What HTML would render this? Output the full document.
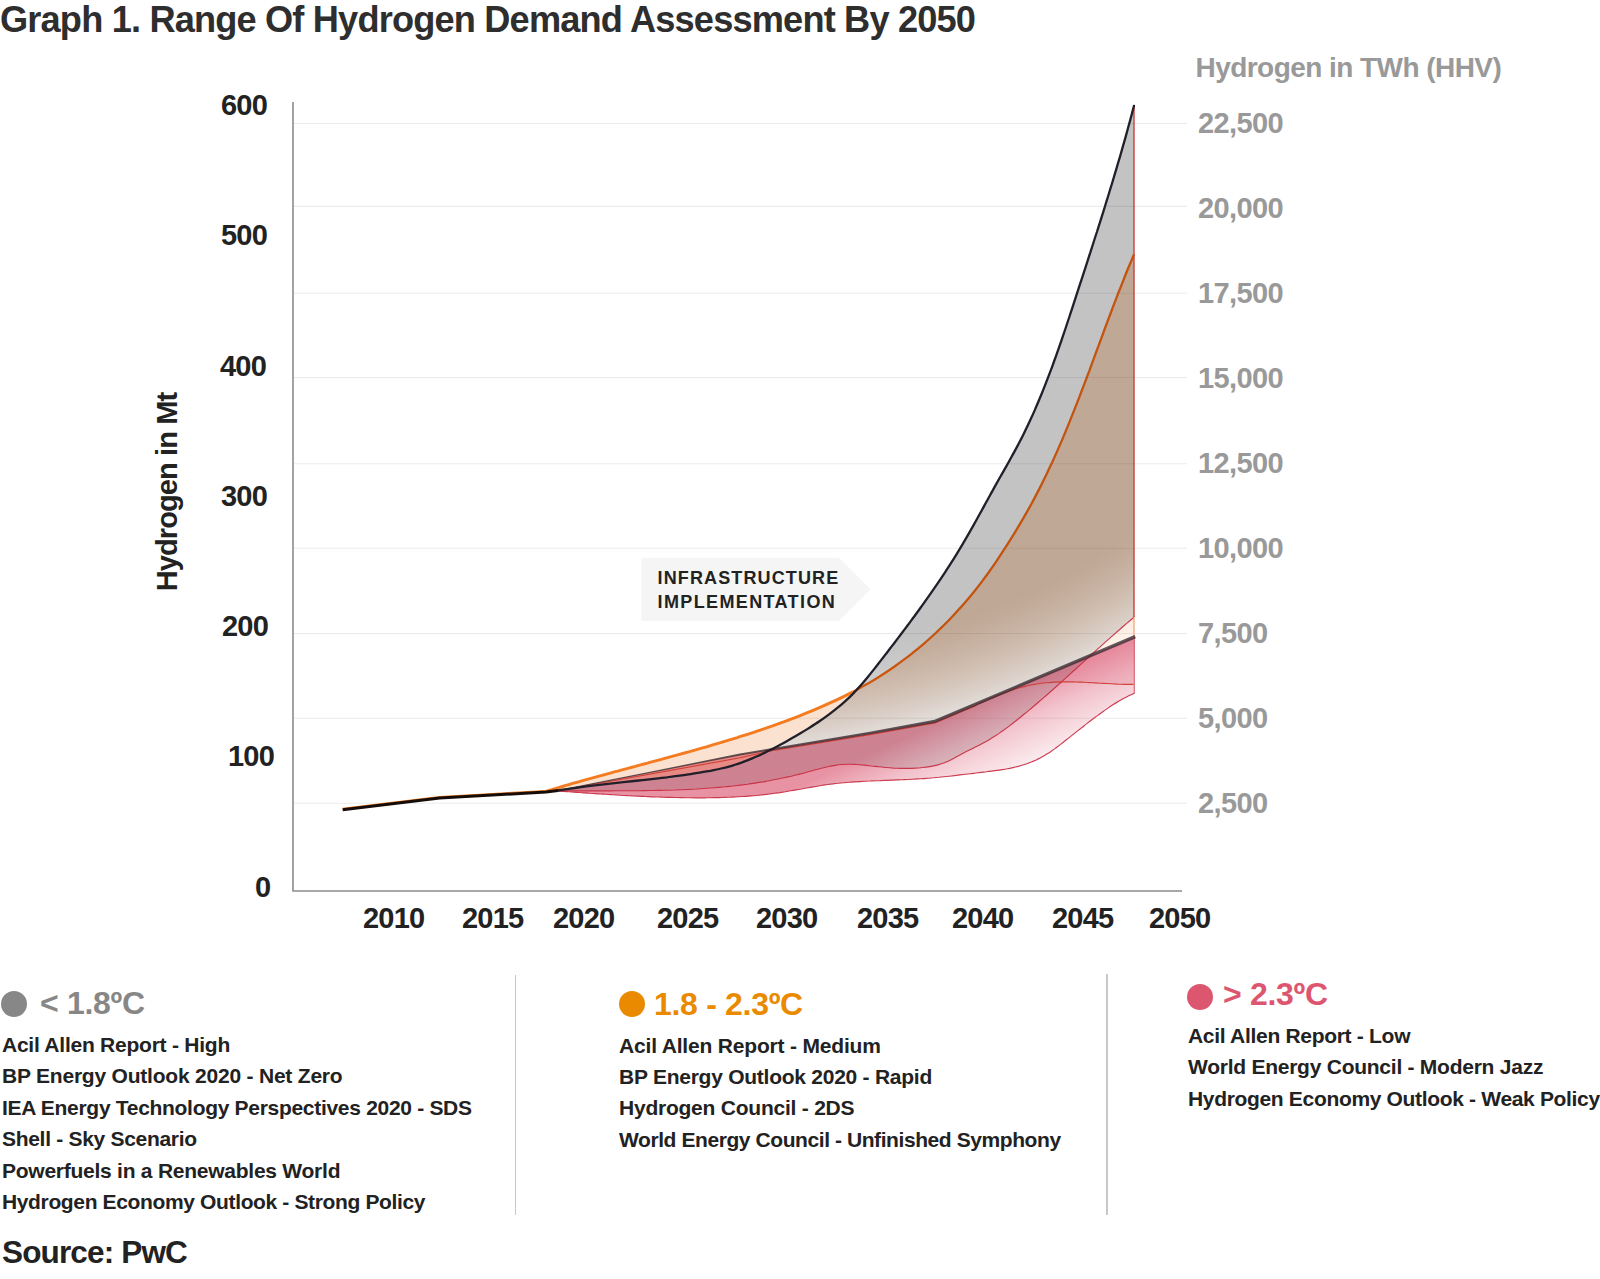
<!DOCTYPE html>
<html lang="en">
<head>
<meta charset="utf-8">
<title>Graph 1. Range Of Hydrogen Demand Assessment By 2050</title>
<style>
html,body{margin:0;padding:0;background:#fff;}
body{width:1600px;height:1279px;position:relative;overflow:hidden;font-family:"Liberation Sans",sans-serif;font-weight:bold;color:#222;}
.t{position:absolute;white-space:nowrap;line-height:1;margin:0;}
#title{left:0px;top:2px;font-size:36.2px;color:#2e2e2e;letter-spacing:-0.83px;}
.yl{font-size:29px;color:#222;letter-spacing:-0.8px;}
.xl{font-size:29px;color:#222;top:904px;letter-spacing:-0.8px;}
.rl{font-size:29px;color:#999;left:1198px;letter-spacing:-0.6px;}
#rtitle{left:1195.5px;top:54px;font-size:28px;color:#999;letter-spacing:-0.55px;}
#ltitle{left:167.2px;top:491.5px;font-size:29px;letter-spacing:-0.9px;color:#222;transform:translate(-50%,-50%) rotate(-90deg);}
.lh{font-size:32px;letter-spacing:-0.3px;}
.li{font-size:21px;color:#222;letter-spacing:-0.3px;}
#src{left:2px;top:1237px;font-size:31.5px;color:#222;letter-spacing:-0.85px;}
.dot{position:absolute;width:26px;height:26px;border-radius:50%;}
.sep{position:absolute;width:1.3px;background:#c8c8c8;}
svg{position:absolute;left:0;top:0;}
</style>
</head>
<body>
<svg id="chart" width="1600" height="1279" viewBox="0 0 1600 1279">

<defs>
<radialGradient id="gG" gradientUnits="userSpaceOnUse" cx="695.0" cy="-126.0" r="877.0" fx="695.0" fy="-126.0"><stop offset="0" stop-color="#000" stop-opacity="0.235"/><stop offset="0.9008" stop-color="#000" stop-opacity="0.235"/><stop offset="0.9107" stop-color="#000" stop-opacity="0.228"/><stop offset="0.9206" stop-color="#000" stop-opacity="0.219"/><stop offset="0.9306" stop-color="#000" stop-opacity="0.208"/><stop offset="0.9405" stop-color="#000" stop-opacity="0.196"/><stop offset="0.9504" stop-color="#000" stop-opacity="0.183"/><stop offset="0.9603" stop-color="#000" stop-opacity="0.170"/><stop offset="0.9702" stop-color="#000" stop-opacity="0.156"/><stop offset="0.9802" stop-color="#000" stop-opacity="0.142"/><stop offset="0.9901" stop-color="#000" stop-opacity="0.127"/><stop offset="1.0000" stop-color="#000" stop-opacity="0.112"/></radialGradient>
<radialGradient id="gO" gradientUnits="userSpaceOnUse" cx="695.0" cy="-126.0" r="877.0" fx="695.0" fy="-126.0"><stop offset="0" stop-color="#eb6400" stop-opacity="0.235"/><stop offset="0.9008" stop-color="#eb6400" stop-opacity="0.235"/><stop offset="0.9107" stop-color="#eb6400" stop-opacity="0.230"/><stop offset="0.9206" stop-color="#eb6400" stop-opacity="0.221"/><stop offset="0.9306" stop-color="#eb6400" stop-opacity="0.207"/><stop offset="0.9405" stop-color="#eb6400" stop-opacity="0.191"/><stop offset="0.9504" stop-color="#eb6400" stop-opacity="0.172"/><stop offset="0.9603" stop-color="#eb6400" stop-opacity="0.151"/><stop offset="0.9702" stop-color="#eb6400" stop-opacity="0.128"/><stop offset="0.9802" stop-color="#eb6400" stop-opacity="0.102"/><stop offset="0.9901" stop-color="#eb6400" stop-opacity="0.074"/><stop offset="1.0000" stop-color="#eb6400" stop-opacity="0.045"/></radialGradient>
<linearGradient id="gP" gradientUnits="userSpaceOnUse" x1="900" y1="740" x2="930" y2="806.6">
<stop offset="0" stop-color="#d33252" stop-opacity="0.53"/>
<stop offset="0.45" stop-color="#d33252" stop-opacity="0.3"/>
<stop offset="1" stop-color="#d33252" stop-opacity="0.1"/>
</linearGradient>
</defs>
<g stroke="#ebebeb" stroke-width="1.1"><line x1="294" x2="1187" y1="123.5" y2="123.5"/><line x1="294" x2="1187" y1="206.4" y2="206.4"/><line x1="294" x2="1187" y1="293.2" y2="293.2"/><line x1="294" x2="1187" y1="377.5" y2="377.5"/><line x1="294" x2="1187" y1="463.8" y2="463.8"/><line x1="294" x2="1187" y1="548.3" y2="548.3"/><line x1="294" x2="1187" y1="633.5" y2="633.5"/><line x1="294" x2="1187" y1="718.3" y2="718.3"/><line x1="294" x2="1187" y1="803.2" y2="803.2"/></g>
<path d="M641.4,557.7 H838.8 L870.5,589.3 L838.8,621 H641.4 Z" fill="#f5f5f5"/>
<text x="657.5" y="584" font-family="Liberation Sans, sans-serif" font-weight="bold" font-size="18" letter-spacing="1.13" fill="#222">INFRASTRUCTURE</text>
<text x="657.5" y="608" font-family="Liberation Sans, sans-serif" font-weight="bold" font-size="18" letter-spacing="1.38" fill="#222">IMPLEMENTATION</text>
<path d="M558.0,790.5 L740.0,754.5 L870.0,733.0 L935.0,721.3 L1134.5,637.0 L1134.5,693.2 C1133.6,693.6 1131.0,694.8 1129.2,695.6 C1127.4,696.5 1125.7,697.4 1123.9,698.3 C1122.2,699.3 1120.4,700.3 1118.6,701.3 C1116.9,702.4 1115.1,703.5 1113.3,704.6 C1111.6,705.7 1109.8,706.9 1108.1,708.1 C1106.3,709.3 1104.5,710.5 1102.8,711.7 C1101.0,713.0 1099.2,714.3 1097.5,715.6 C1095.7,716.9 1094.0,718.2 1092.2,719.5 C1090.4,720.9 1088.7,722.2 1086.9,723.6 C1085.1,725.0 1083.4,726.4 1081.6,727.8 C1079.8,729.1 1078.1,730.5 1076.3,731.9 C1074.6,733.3 1072.8,734.7 1071.0,736.1 C1069.3,737.5 1067.5,738.9 1065.7,740.3 C1064.0,741.7 1062.2,743.1 1060.5,744.4 C1058.7,745.8 1056.9,747.1 1055.2,748.4 C1053.4,749.7 1051.6,751.0 1049.9,752.2 C1048.1,753.3 1046.4,754.4 1044.6,755.5 C1042.8,756.5 1041.1,757.5 1039.3,758.4 C1037.5,759.2 1035.8,760.1 1034.0,760.9 C1032.2,761.6 1030.5,762.3 1028.7,763.0 C1027.0,763.7 1025.2,764.3 1023.4,764.8 C1021.7,765.4 1019.9,765.9 1018.1,766.4 C1016.4,766.8 1014.6,767.2 1012.9,767.6 C1011.1,768.0 1009.3,768.4 1007.6,768.7 C1005.8,769.1 1004.0,769.4 1002.3,769.6 C1000.5,769.9 998.7,770.2 997.0,770.4 C995.2,770.7 993.5,770.9 991.7,771.1 C989.9,771.3 988.2,771.5 986.4,771.8 C984.6,772.0 982.9,772.2 981.1,772.4 C979.4,772.6 977.6,772.8 975.8,773.0 C974.1,773.2 972.3,773.5 970.5,773.7 C968.8,773.9 967.0,774.1 965.3,774.3 C963.5,774.5 961.7,774.7 960.0,774.9 C958.2,775.2 956.4,775.4 954.7,775.6 C952.9,775.8 951.1,776.0 949.4,776.2 C947.6,776.4 945.9,776.6 944.1,776.7 C942.3,776.9 940.6,777.1 938.8,777.3 C937.0,777.4 935.3,777.6 933.5,777.8 C931.8,777.9 930.0,778.1 928.2,778.2 C926.5,778.3 924.7,778.5 922.9,778.6 C921.2,778.7 919.4,778.8 917.7,778.9 C915.9,779.0 914.1,779.1 912.4,779.2 C910.6,779.3 908.8,779.4 907.1,779.5 C905.3,779.6 903.5,779.6 901.8,779.7 C900.0,779.8 898.3,779.9 896.5,779.9 C894.7,780.0 893.0,780.1 891.2,780.1 C889.4,780.2 887.7,780.3 885.9,780.3 C884.2,780.4 882.4,780.5 880.6,780.6 C878.9,780.6 877.1,780.7 875.3,780.8 C873.6,780.9 871.8,780.9 870.1,781.0 C868.3,781.1 866.5,781.2 864.8,781.3 C863.0,781.4 861.2,781.5 859.5,781.6 C857.7,781.7 855.9,781.8 854.2,781.9 C852.4,782.0 850.7,782.2 848.9,782.3 C847.1,782.4 845.4,782.6 843.6,782.7 C841.8,782.9 840.1,783.1 838.3,783.3 C836.6,783.4 834.8,783.6 833.0,783.9 C831.3,784.1 829.5,784.3 827.7,784.5 C826.0,784.8 824.2,785.0 822.4,785.3 C820.7,785.6 818.9,785.9 817.2,786.2 C815.4,786.5 813.6,786.8 811.9,787.1 C810.1,787.4 808.3,787.7 806.6,788.0 C804.8,788.3 803.1,788.6 801.3,789.0 C799.5,789.3 797.8,789.6 796.0,789.9 C794.2,790.2 792.5,790.5 790.7,790.8 C789.0,791.1 787.2,791.4 785.4,791.7 C783.7,792.0 781.9,792.3 780.1,792.6 C778.4,792.8 776.6,793.1 774.8,793.3 C773.1,793.6 771.3,793.8 769.6,794.0 C767.8,794.2 766.0,794.4 764.3,794.6 C762.5,794.8 760.7,795.0 759.0,795.2 C757.2,795.4 755.5,795.5 753.7,795.7 C751.9,795.8 750.2,796.0 748.4,796.1 C746.6,796.3 744.9,796.4 743.1,796.5 C741.4,796.6 739.6,796.7 737.8,796.8 C736.1,796.9 734.3,797.0 732.5,797.1 C730.8,797.2 729.0,797.2 727.2,797.3 C725.5,797.4 723.7,797.4 722.0,797.5 C720.2,797.5 718.4,797.6 716.7,797.6 C714.9,797.6 713.1,797.7 711.4,797.7 C709.6,797.7 707.9,797.7 706.1,797.8 C704.3,797.8 702.6,797.8 700.8,797.8 C699.0,797.8 697.3,797.8 695.5,797.8 C693.8,797.8 692.0,797.8 690.2,797.7 C688.5,797.7 686.7,797.7 684.9,797.7 C683.2,797.7 681.4,797.6 679.6,797.6 C677.9,797.6 676.1,797.5 674.4,797.5 C672.6,797.5 670.8,797.4 669.1,797.4 C667.3,797.3 665.5,797.3 663.8,797.2 C662.0,797.1 660.3,797.1 658.5,797.0 C656.7,797.0 655.0,796.9 653.2,796.8 C651.4,796.8 649.7,796.7 647.9,796.6 C646.1,796.5 644.4,796.5 642.6,796.4 C640.9,796.3 639.1,796.2 637.3,796.1 C635.6,796.0 633.8,795.9 632.0,795.9 C630.3,795.8 628.5,795.7 626.8,795.6 C625.0,795.5 623.2,795.4 621.5,795.3 C619.7,795.2 617.9,795.1 616.2,795.0 C614.4,794.9 612.7,794.7 610.9,794.6 C609.1,794.5 607.4,794.4 605.6,794.3 C603.8,794.2 602.1,794.1 600.3,794.0 C598.5,793.8 596.8,793.7 595.0,793.6 C593.3,793.5 591.5,793.4 589.7,793.3 C588.0,793.1 586.2,793.0 584.4,792.9 C582.7,792.8 580.9,792.6 579.2,792.5 C577.4,792.4 575.6,792.3 573.9,792.1 C572.1,792.0 570.3,791.9 568.6,791.8 C566.8,791.6 565.1,791.5 563.3,791.4 C561.5,791.3 558.9,791.1 558.0,791.0 Z" fill="url(#gP)"/>
<path d="M975.0,705.4 L935,721.3 L1133.5,637.0 L1133.5,684.4 C1132.6,684.4 1129.9,684.4 1128.0,684.4 C1126.2,684.4 1124.4,684.3 1122.6,684.3 C1120.7,684.2 1118.9,684.1 1117.1,684.1 C1115.3,684.0 1113.5,683.9 1111.6,683.8 C1109.8,683.7 1108.0,683.6 1106.2,683.5 C1104.4,683.4 1102.5,683.3 1100.7,683.2 C1098.9,683.1 1097.1,683.0 1095.2,682.9 C1093.4,682.8 1091.6,682.7 1089.8,682.6 C1088.0,682.5 1086.1,682.4 1084.3,682.3 C1082.5,682.2 1080.7,682.2 1078.8,682.1 C1077.0,682.0 1075.2,682.0 1073.4,681.9 C1071.6,681.9 1069.7,681.9 1067.9,681.9 C1066.1,681.9 1064.3,681.9 1062.4,681.9 C1060.6,681.9 1058.8,682.0 1057.0,682.1 C1055.2,682.2 1053.3,682.2 1051.5,682.4 C1049.7,682.5 1047.9,682.7 1046.1,682.8 C1044.2,683.0 1042.4,683.2 1040.6,683.5 C1038.8,683.7 1036.9,684.0 1035.1,684.3 C1033.3,684.6 1031.5,685.0 1029.7,685.3 C1027.8,685.7 1026.0,686.1 1024.2,686.6 C1022.4,687.0 1020.5,687.5 1018.7,688.0 C1016.9,688.5 1015.1,689.1 1013.3,689.7 C1011.4,690.3 1009.6,690.9 1007.8,691.6 C1006.0,692.3 1004.1,693.0 1002.3,693.7 C1000.5,694.4 998.7,695.2 996.9,695.9 C995.0,696.7 993.2,697.5 991.4,698.3 C989.6,699.1 987.8,699.9 985.9,700.7 C984.1,701.5 982.3,702.3 980.5,703.1 C978.6,703.9 975.9,705.0 975.0,705.4 Z" fill="#d33252" fill-opacity="0.14"/>
<path d="M546.0,791.4 C548.0,790.8 553.9,789.0 557.8,787.8 C561.8,786.6 565.8,785.5 569.7,784.3 C573.7,783.2 577.7,782.1 581.7,780.9 C585.6,779.8 589.6,778.7 593.6,777.6 C597.6,776.5 601.6,775.4 605.6,774.3 C609.6,773.2 613.6,772.1 617.6,771.1 C621.6,770.0 625.6,768.9 629.6,767.8 C633.6,766.8 637.6,765.7 641.6,764.6 C645.6,763.6 649.6,762.5 653.6,761.4 C657.6,760.3 661.6,759.3 665.6,758.2 C669.6,757.1 673.6,756.0 677.6,754.9 C681.6,753.8 685.6,752.7 689.6,751.6 C693.6,750.5 697.6,749.3 701.6,748.2 C705.6,747.1 709.5,745.9 713.5,744.7 C717.5,743.6 721.5,742.4 725.4,741.2 C729.4,740.0 733.3,738.8 737.3,737.6 C741.2,736.3 745.2,735.1 749.1,733.8 C753.0,732.5 757.0,731.2 760.9,729.9 C764.8,728.6 768.7,727.2 772.6,725.9 C776.5,724.5 780.4,723.1 784.3,721.7 C788.1,720.2 792.0,718.8 795.9,717.3 C799.7,715.8 803.6,714.3 807.4,712.7 C811.2,711.2 815.0,709.6 818.8,707.9 C822.6,706.3 826.4,704.6 830.1,702.9 C833.9,701.2 837.6,699.5 841.4,697.6 C845.1,695.8 850.6,693.0 852.4,692.1 L860.6,685.5 C859.3,686.9 855.7,691.0 853.1,693.6 C850.6,696.2 848.0,698.7 845.3,701.1 C842.6,703.6 839.9,705.9 837.0,708.2 C834.2,710.5 831.3,712.8 828.4,714.9 C825.5,717.1 822.5,719.2 819.4,721.3 C816.4,723.3 813.3,725.3 810.2,727.3 C807.1,729.2 804.0,731.2 800.8,733.0 C797.7,734.9 794.5,736.8 791.3,738.6 C788.1,740.4 784.9,742.2 781.7,744.0 C778.5,745.7 775.3,747.5 772.0,749.1 C768.8,750.8 765.5,752.4 762.2,754.0 C758.9,755.5 755.6,757.0 752.2,758.4 C748.9,759.8 745.5,761.1 742.1,762.4 C738.7,763.6 735.2,764.7 731.7,765.8 C728.2,766.8 724.7,767.7 721.1,768.5 C717.6,769.4 714.0,770.1 710.4,770.8 C706.8,771.4 703.1,772.0 699.5,772.6 C695.9,773.2 692.3,773.8 688.6,774.3 C685.0,774.9 681.4,775.4 677.7,775.9 C674.1,776.4 670.5,776.8 666.8,777.3 C663.2,777.7 659.6,778.2 655.9,778.6 C652.3,779.0 648.7,779.4 645.0,779.8 C641.4,780.2 637.8,780.6 634.1,781.0 C630.5,781.4 626.9,781.8 623.2,782.2 C619.6,782.6 616.0,783.0 612.4,783.4 C608.7,783.8 605.1,784.2 601.5,784.6 C597.8,785.1 594.2,785.5 590.6,785.9 C587.0,786.4 583.3,786.9 579.7,787.3 C576.1,787.8 572.5,788.3 568.9,788.8 C565.2,789.4 559.8,790.2 558.0,790.5 L546,791.4 Z" fill="#eb6400" fill-opacity="0.185"/>
<path d="M772.0,749.1 C773.6,748.3 778.5,745.7 781.7,744.0 C784.9,742.2 788.1,740.4 791.3,738.6 C794.5,736.8 797.7,734.9 800.8,733.0 C804.0,731.2 807.1,729.2 810.2,727.3 C813.3,725.3 816.4,723.3 819.4,721.3 C822.5,719.2 825.5,717.1 828.4,714.9 C831.3,712.8 834.2,710.5 837.0,708.2 C839.9,705.9 842.6,703.6 845.3,701.1 C848.0,698.7 850.6,696.2 853.1,693.6 C855.7,691.0 859.3,686.9 860.6,685.5 L852.4,692.1 C854.2,691.1 859.7,688.2 863.3,686.1 C866.9,684.1 870.5,682.0 874.0,679.9 C877.6,677.7 881.1,675.5 884.6,673.2 C888.0,671.0 891.5,668.6 894.9,666.2 C898.3,663.8 901.6,661.4 904.9,658.9 C908.3,656.4 911.5,653.8 914.8,651.2 C918.0,648.6 921.2,646.0 924.3,643.3 C927.4,640.6 930.5,637.8 933.6,635.0 C936.6,632.2 939.6,629.4 942.5,626.5 C945.5,623.6 948.4,620.7 951.2,617.7 C954.1,614.7 956.9,611.7 959.6,608.6 C962.4,605.6 965.1,602.5 967.8,599.3 C970.4,596.2 973.0,593.0 975.6,589.7 C978.2,586.5 980.7,583.2 983.2,579.9 C985.6,576.6 988.1,573.3 990.4,569.9 C992.8,566.5 995.2,563.1 997.5,559.6 C999.8,556.2 1002.1,552.7 1004.3,549.2 C1006.6,545.8 1008.8,542.3 1011.0,538.7 C1013.2,535.2 1015.3,531.7 1017.5,528.1 C1019.6,524.6 1021.7,521.0 1023.8,517.4 C1025.9,513.8 1027.9,510.2 1029.9,506.6 C1031.9,502.9 1033.9,499.3 1035.8,495.6 C1037.7,492.0 1039.6,488.3 1041.5,484.6 C1043.3,480.9 1045.1,477.2 1046.9,473.5 C1048.7,469.7 1050.4,466.0 1052.2,462.2 C1053.9,458.5 1055.6,454.7 1057.3,450.9 C1058.9,447.2 1060.6,443.4 1062.2,439.6 C1063.8,435.8 1065.4,431.9 1067.0,428.1 C1068.6,424.3 1070.1,420.5 1071.6,416.6 C1073.2,412.8 1074.7,408.9 1076.2,405.1 C1077.7,401.2 1079.2,397.4 1080.7,393.5 C1082.2,389.6 1083.6,385.8 1085.1,381.9 C1086.6,378.0 1088.0,374.1 1089.5,370.3 C1090.9,366.4 1092.3,362.5 1093.8,358.6 C1095.2,354.7 1096.6,350.8 1098.1,346.9 C1099.5,343.1 1100.9,339.2 1102.4,335.3 C1103.8,331.4 1105.3,327.5 1106.7,323.6 C1108.2,319.8 1109.6,315.9 1111.1,312.0 C1112.5,308.1 1114.0,304.3 1115.5,300.4 C1117.0,296.5 1118.4,292.7 1120.0,288.8 C1121.5,285.0 1123.0,281.1 1124.5,277.3 C1126.1,273.5 1127.6,269.6 1129.2,265.8 C1130.8,262.0 1133.2,256.3 1134.0,254.4 L1134.0,637.0 L935,721.3 L870,733 Z" fill="url(#gO)"/>
<path d="M546.0,791.4 C548.0,790.8 553.9,789.0 557.8,787.8 C561.8,786.6 565.8,785.5 569.7,784.3 C573.7,783.2 577.7,782.1 581.7,780.9 C585.6,779.8 589.6,778.7 593.6,777.6 C597.6,776.5 601.6,775.4 605.6,774.3 C609.6,773.2 613.6,772.1 617.6,771.1 C621.6,770.0 625.6,768.9 629.6,767.8 C633.6,766.8 637.6,765.7 641.6,764.6 C645.6,763.6 649.6,762.5 653.6,761.4 C657.6,760.3 661.6,759.3 665.6,758.2 C669.6,757.1 673.6,756.0 677.6,754.9 C681.6,753.8 685.6,752.7 689.6,751.6 C693.6,750.5 697.6,749.3 701.6,748.2 C705.6,747.1 709.5,745.9 713.5,744.7 C717.5,743.6 721.5,742.4 725.4,741.2 C729.4,740.0 733.3,738.8 737.3,737.6 C741.2,736.3 745.2,735.1 749.1,733.8 C753.0,732.5 757.0,731.2 760.9,729.9 C764.8,728.6 768.7,727.2 772.6,725.9 C776.5,724.5 780.4,723.1 784.3,721.7 C788.1,720.2 792.0,718.8 795.9,717.3 C799.7,715.8 803.6,714.3 807.4,712.7 C811.2,711.2 815.0,709.6 818.8,707.9 C822.6,706.3 826.4,704.6 830.1,702.9 C833.9,701.2 837.6,699.5 841.4,697.6 C845.1,695.8 850.6,693.0 852.4,692.1" fill="none" stroke="#f47b20" stroke-width="2.9" stroke-linejoin="round"/>
<path d="M852.4,692.1 C854.2,691.1 859.7,688.2 863.3,686.1 C866.9,684.1 870.5,682.0 874.0,679.9 C877.6,677.7 881.1,675.5 884.6,673.2 C888.0,671.0 891.5,668.6 894.9,666.2 C898.3,663.8 901.6,661.4 904.9,658.9 C908.3,656.4 911.5,653.8 914.8,651.2 C918.0,648.6 921.2,646.0 924.3,643.3 C927.4,640.6 930.5,637.8 933.6,635.0 C936.6,632.2 939.6,629.4 942.5,626.5 C945.5,623.6 948.4,620.7 951.2,617.7 C954.1,614.7 956.9,611.7 959.6,608.6 C962.4,605.6 965.1,602.5 967.8,599.3 C970.4,596.2 973.0,593.0 975.6,589.7 C978.2,586.5 980.7,583.2 983.2,579.9 C985.6,576.6 988.1,573.3 990.4,569.9 C992.8,566.5 995.2,563.1 997.5,559.6 C999.8,556.2 1002.1,552.7 1004.3,549.2 C1006.6,545.8 1008.8,542.3 1011.0,538.7 C1013.2,535.2 1015.3,531.7 1017.5,528.1 C1019.6,524.6 1021.7,521.0 1023.8,517.4 C1025.9,513.8 1027.9,510.2 1029.9,506.6 C1031.9,502.9 1033.9,499.3 1035.8,495.6 C1037.7,492.0 1039.6,488.3 1041.5,484.6 C1043.3,480.9 1045.1,477.2 1046.9,473.5 C1048.7,469.7 1050.4,466.0 1052.2,462.2 C1053.9,458.5 1055.6,454.7 1057.3,450.9 C1058.9,447.2 1060.6,443.4 1062.2,439.6 C1063.8,435.8 1065.4,431.9 1067.0,428.1 C1068.6,424.3 1070.1,420.5 1071.6,416.6 C1073.2,412.8 1074.7,408.9 1076.2,405.1 C1077.7,401.2 1079.2,397.4 1080.7,393.5 C1082.2,389.6 1083.6,385.8 1085.1,381.9 C1086.6,378.0 1088.0,374.1 1089.5,370.3 C1090.9,366.4 1092.3,362.5 1093.8,358.6 C1095.2,354.7 1096.6,350.8 1098.1,346.9 C1099.5,343.1 1100.9,339.2 1102.4,335.3 C1103.8,331.4 1105.3,327.5 1106.7,323.6 C1108.2,319.8 1109.6,315.9 1111.1,312.0 C1112.5,308.1 1114.0,304.3 1115.5,300.4 C1117.0,296.5 1118.4,292.7 1120.0,288.8 C1121.5,285.0 1123.0,281.1 1124.5,277.3 C1126.1,273.5 1127.6,269.6 1129.2,265.8 C1130.8,262.0 1133.2,256.3 1134.0,254.4" fill="none" stroke="#ff6c12" stroke-width="2.3" stroke-linejoin="round"/>
<path d="M342.7,809.0 L439.7,797.2 L546,791.2" fill="none" stroke="#f47b20" stroke-width="2.6" stroke-linejoin="round"/>
<path d="M1090.4,655.6 L1097.5,649.2 L1104.8,642.6 L1112.1,636.1 L1119.4,629.7 L1126.7,623.4 L1134.0,617.2 L1134.0,637 Z" fill="#eb6400" fill-opacity="0.04"/>
<path d="M558.0,790.5 C559.8,790.2 565.2,789.4 568.9,788.8 C572.5,788.3 576.1,787.8 579.7,787.3 C583.3,786.9 587.0,786.4 590.6,785.9 C594.2,785.5 597.8,785.1 601.5,784.6 C605.1,784.2 608.7,783.8 612.4,783.4 C616.0,783.0 619.6,782.6 623.2,782.2 C626.9,781.8 630.5,781.4 634.1,781.0 C637.8,780.6 641.4,780.2 645.0,779.8 C648.7,779.4 652.3,779.0 655.9,778.6 C659.6,778.2 663.2,777.7 666.8,777.3 C670.5,776.8 674.1,776.4 677.7,775.9 C681.4,775.4 685.0,774.9 688.6,774.3 C692.3,773.8 695.9,773.2 699.5,772.6 C703.1,772.0 706.8,771.4 710.4,770.8 C714.0,770.1 717.6,769.4 721.1,768.5 C724.7,767.7 728.2,766.8 731.7,765.8 C735.2,764.7 738.7,763.6 742.1,762.4 C745.5,761.1 748.9,759.8 752.2,758.4 C755.6,757.0 758.9,755.5 762.2,754.0 C765.5,752.4 768.8,750.8 772.0,749.1 C775.3,747.5 778.5,745.7 781.7,744.0 C784.9,742.2 788.1,740.4 791.3,738.6 C794.5,736.8 797.7,734.9 800.8,733.0 C804.0,731.2 807.1,729.2 810.2,727.3 C813.3,725.3 816.4,723.3 819.4,721.3 C822.5,719.2 825.5,717.1 828.4,714.9 C831.3,712.8 834.2,710.5 837.0,708.2 C839.9,705.9 842.6,703.6 845.3,701.1 C848.0,698.7 850.6,696.2 853.1,693.6 C855.7,691.0 858.1,688.3 860.6,685.5 C863.0,682.8 865.3,680.0 867.6,677.2 C870.0,674.4 872.2,671.5 874.5,668.6 C876.8,665.8 879.0,662.8 881.3,659.9 C883.5,657.0 885.7,654.1 888.0,651.2 C890.2,648.3 892.4,645.4 894.7,642.5 C896.9,639.6 899.1,636.7 901.3,633.8 C903.5,630.9 905.7,627.9 907.9,625.0 C910.1,622.1 912.2,619.1 914.4,616.2 C916.6,613.2 918.7,610.3 920.9,607.3 C923.0,604.4 925.1,601.4 927.2,598.4 C929.3,595.4 931.4,592.4 933.5,589.4 C935.6,586.4 937.6,583.4 939.7,580.4 C941.7,577.4 943.7,574.3 945.7,571.3 C947.7,568.2 949.7,565.2 951.6,562.1 C953.6,559.0 955.5,555.9 957.4,552.8 C959.3,549.7 961.2,546.5 963.1,543.4 C964.9,540.3 966.8,537.1 968.6,533.9 C970.4,530.7 972.2,527.6 974.0,524.4 C975.8,521.2 977.6,518.0 979.3,514.8 C981.1,511.6 982.9,508.4 984.6,505.1 C986.4,501.9 988.2,498.7 989.9,495.5 C991.7,492.3 993.5,489.1 995.2,485.9 C997.0,482.7 998.8,479.5 1000.6,476.3 C1002.4,473.1 1004.2,469.9 1006.0,466.8 C1007.8,463.6 1009.6,460.4 1011.3,457.2 C1013.1,454.0 1014.9,450.8 1016.6,447.6 C1018.3,444.4 1020.0,441.1 1021.7,437.9 C1023.3,434.6 1025.0,431.3 1026.5,428.1 C1028.1,424.8 1029.7,421.4 1031.2,418.1 C1032.7,414.8 1034.2,411.5 1035.6,408.1 C1037.1,404.8 1038.5,401.4 1039.9,398.0 C1041.3,394.6 1042.7,391.3 1044.0,387.9 C1045.4,384.5 1046.7,381.1 1048.0,377.7 C1049.3,374.2 1050.6,370.8 1051.9,367.4 C1053.1,364.0 1054.4,360.5 1055.6,357.1 C1056.9,353.6 1058.1,350.2 1059.3,346.7 C1060.5,343.3 1061.7,339.8 1062.8,336.4 C1064.0,332.9 1065.2,329.4 1066.3,326.0 C1067.5,322.5 1068.6,319.0 1069.8,315.5 C1070.9,312.1 1072.1,308.6 1073.2,305.1 C1074.3,301.6 1075.5,298.1 1076.6,294.7 C1077.7,291.2 1078.9,287.7 1080.0,284.2 C1081.1,280.8 1082.3,277.3 1083.4,273.8 C1084.5,270.3 1085.7,266.8 1086.8,263.4 C1087.9,259.9 1089.0,256.4 1090.2,252.9 C1091.3,249.5 1092.4,246.0 1093.5,242.5 C1094.6,239.0 1095.7,235.5 1096.9,232.0 C1098.0,228.6 1099.1,225.1 1100.2,221.6 C1101.3,218.1 1102.4,214.6 1103.5,211.1 C1104.6,207.7 1105.6,204.2 1106.7,200.7 C1107.8,197.2 1108.9,193.7 1109.9,190.2 C1111.0,186.7 1112.1,183.2 1113.1,179.7 C1114.2,176.2 1115.2,172.7 1116.3,169.2 C1117.3,165.7 1118.3,162.2 1119.4,158.7 C1120.4,155.2 1121.4,151.7 1122.4,148.1 C1123.4,144.6 1124.4,141.1 1125.4,137.6 C1126.4,134.1 1127.4,130.5 1128.3,127.0 C1129.3,123.5 1130.3,120.0 1131.2,116.4 C1132.1,112.9 1133.5,107.6 1134.0,105.8 L1134.0,617.2 C1132.8,618.2 1129.1,621.3 1126.7,623.4 C1124.3,625.5 1121.8,627.6 1119.4,629.7 C1117.0,631.8 1114.6,633.9 1112.1,636.1 C1109.7,638.3 1107.3,640.4 1104.8,642.6 C1102.4,644.8 1100.0,647.0 1097.5,649.2 C1095.1,651.4 1092.7,653.6 1090.3,655.8 C1087.8,658.0 1085.4,660.2 1083.0,662.4 C1080.5,664.6 1078.1,666.8 1075.7,669.0 C1073.2,671.2 1070.8,673.5 1068.4,675.7 C1065.9,677.9 1063.5,680.0 1061.1,682.2 C1058.7,684.4 1056.2,686.6 1053.8,688.8 C1051.4,690.9 1048.9,693.1 1046.5,695.2 C1044.1,697.3 1041.6,699.4 1039.2,701.5 C1036.8,703.6 1034.4,705.7 1031.9,707.8 C1029.5,709.8 1027.1,711.9 1024.6,713.8 C1022.2,715.8 1019.8,717.8 1017.3,719.8 C1014.9,721.7 1012.5,723.6 1010.1,725.4 C1007.6,727.3 1005.2,729.1 1002.8,730.8 C1000.3,732.5 997.9,734.2 995.5,735.8 C993.0,737.3 990.6,738.9 988.2,740.3 C985.7,741.7 983.3,743.1 980.9,744.3 C978.5,745.6 976.0,746.8 973.6,748.0 C971.2,749.2 968.7,750.4 966.3,751.6 C963.9,752.9 961.4,754.2 959.0,755.5 C956.6,756.8 954.2,758.2 951.7,759.4 C949.3,760.6 946.9,761.8 944.4,762.8 C942.0,763.7 939.6,764.5 937.1,765.1 C934.7,765.7 932.3,766.2 929.8,766.6 C927.4,767.0 925.0,767.3 922.6,767.5 C920.1,767.8 917.7,768.0 915.3,768.1 C912.8,768.3 910.4,768.4 908.0,768.4 C905.5,768.4 903.1,768.4 900.7,768.4 C898.3,768.3 895.8,768.2 893.4,768.1 C891.0,767.9 888.5,767.7 886.1,767.5 C883.7,767.3 881.2,767.1 878.8,766.8 C876.4,766.6 873.9,766.2 871.5,766.0 C869.1,765.7 866.7,765.4 864.2,765.1 C861.8,764.9 859.4,764.7 856.9,764.5 C854.5,764.4 852.1,764.2 849.6,764.2 C847.2,764.2 844.8,764.3 842.4,764.5 C839.9,764.7 837.5,765.0 835.1,765.4 C832.6,765.8 830.2,766.2 827.8,766.8 C825.3,767.3 822.9,767.9 820.5,768.5 C818.1,769.2 815.6,769.8 813.2,770.5 C810.8,771.2 808.3,771.9 805.9,772.5 C803.5,773.2 801.0,773.8 798.6,774.4 C796.2,775.0 793.7,775.6 791.3,776.2 C788.9,776.7 786.5,777.3 784.0,777.8 C781.6,778.3 779.2,778.8 776.7,779.3 C774.3,779.8 771.9,780.3 769.4,780.7 C767.0,781.1 764.6,781.6 762.2,782.0 C759.7,782.4 757.3,782.8 754.9,783.1 C752.4,783.5 750.0,783.8 747.6,784.2 C745.1,784.5 742.7,784.8 740.3,785.1 C737.8,785.4 735.4,785.7 733.0,786.0 C730.6,786.2 728.1,786.5 725.7,786.7 C723.3,787.0 720.8,787.2 718.4,787.4 C716.0,787.6 713.5,787.8 711.1,788.0 C708.7,788.2 706.3,788.4 703.8,788.5 C701.4,788.7 699.0,788.8 696.5,789.0 C694.1,789.1 691.7,789.2 689.2,789.4 C686.8,789.5 684.4,789.6 681.9,789.7 C679.5,789.8 677.1,789.9 674.7,790.0 C672.2,790.0 669.8,790.1 667.4,790.2 C664.9,790.2 662.5,790.3 660.1,790.3 C657.6,790.4 655.2,790.4 652.8,790.5 C650.4,790.5 647.9,790.6 645.5,790.6 C643.1,790.6 640.6,790.6 638.2,790.7 C635.8,790.7 633.3,790.7 630.9,790.7 C628.5,790.7 626.1,790.7 623.6,790.7 C621.2,790.7 618.8,790.7 616.3,790.7 C613.9,790.8 611.5,790.8 609.0,790.8 C606.6,790.8 604.2,790.8 601.7,790.8 C599.3,790.8 596.9,790.8 594.5,790.8 C592.0,790.8 589.6,790.8 587.2,790.8 C584.7,790.8 582.3,790.8 579.9,790.8 C577.4,790.8 575.0,790.8 572.6,790.8 C570.2,790.9 567.7,790.9 565.3,790.9 C562.9,790.9 559.2,791.0 558.0,791.0 Z" fill="url(#gG)"/>
<g fill="none" stroke="#c92c42" stroke-width="1.15" stroke-opacity="0.92">
<path d="M558.0,791.0 C559.2,791.0 562.9,790.9 565.3,790.9 C567.7,790.9 570.2,790.9 572.6,790.8 C575.0,790.8 577.4,790.8 579.9,790.8 C582.3,790.8 584.7,790.8 587.2,790.8 C589.6,790.8 592.0,790.8 594.5,790.8 C596.9,790.8 599.3,790.8 601.7,790.8 C604.2,790.8 606.6,790.8 609.0,790.8 C611.5,790.8 613.9,790.8 616.3,790.7 C618.8,790.7 621.2,790.7 623.6,790.7 C626.1,790.7 628.5,790.7 630.9,790.7 C633.3,790.7 635.8,790.7 638.2,790.7 C640.6,790.6 643.1,790.6 645.5,790.6 C647.9,790.6 650.4,790.5 652.8,790.5 C655.2,790.4 657.6,790.4 660.1,790.3 C662.5,790.3 664.9,790.2 667.4,790.2 C669.8,790.1 672.2,790.0 674.7,790.0 C677.1,789.9 679.5,789.8 681.9,789.7 C684.4,789.6 686.8,789.5 689.2,789.4 C691.7,789.2 694.1,789.1 696.5,789.0 C699.0,788.8 701.4,788.7 703.8,788.5 C706.3,788.4 708.7,788.2 711.1,788.0 C713.5,787.8 716.0,787.6 718.4,787.4 C720.8,787.2 723.3,787.0 725.7,786.7 C728.1,786.5 730.6,786.2 733.0,786.0 C735.4,785.7 737.8,785.4 740.3,785.1 C742.7,784.8 745.1,784.5 747.6,784.2 C750.0,783.8 752.4,783.5 754.9,783.1 C757.3,782.8 759.7,782.4 762.2,782.0 C764.6,781.6 767.0,781.1 769.4,780.7 C771.9,780.3 774.3,779.8 776.7,779.3 C779.2,778.8 781.6,778.3 784.0,777.8 C786.5,777.3 788.9,776.7 791.3,776.2 C793.7,775.6 796.2,775.0 798.6,774.4 C801.0,773.8 803.5,773.2 805.9,772.5 C808.3,771.9 810.8,771.2 813.2,770.5 C815.6,769.8 818.1,769.2 820.5,768.5 C822.9,767.9 825.3,767.3 827.8,766.8 C830.2,766.2 832.6,765.8 835.1,765.4 C837.5,765.0 839.9,764.7 842.4,764.5 C844.8,764.3 847.2,764.2 849.6,764.2 C852.1,764.2 854.5,764.4 856.9,764.5 C859.4,764.7 861.8,764.9 864.2,765.1 C866.7,765.4 869.1,765.7 871.5,766.0 C873.9,766.2 876.4,766.6 878.8,766.8 C881.2,767.1 883.7,767.3 886.1,767.5 C888.5,767.7 891.0,767.9 893.4,768.1 C895.8,768.2 898.3,768.3 900.7,768.4 C903.1,768.4 905.5,768.4 908.0,768.4 C910.4,768.4 912.8,768.3 915.3,768.1 C917.7,768.0 920.1,767.8 922.6,767.5 C925.0,767.3 927.4,767.0 929.8,766.6 C932.3,766.2 934.7,765.7 937.1,765.1 C939.6,764.5 942.0,763.7 944.4,762.8 C946.9,761.8 949.3,760.6 951.7,759.4 C954.2,758.2 956.6,756.8 959.0,755.5 C961.4,754.2 963.9,752.9 966.3,751.6 C968.7,750.4 971.2,749.2 973.6,748.0 C976.0,746.8 978.5,745.6 980.9,744.3 C983.3,743.1 985.7,741.7 988.2,740.3 C990.6,738.9 993.0,737.3 995.5,735.8 C997.9,734.2 1000.3,732.5 1002.8,730.8 C1005.2,729.1 1007.6,727.3 1010.1,725.4 C1012.5,723.6 1014.9,721.7 1017.3,719.8 C1019.8,717.8 1022.2,715.8 1024.6,713.8 C1027.1,711.9 1029.5,709.8 1031.9,707.8 C1034.4,705.7 1036.8,703.6 1039.2,701.5 C1041.6,699.4 1044.1,697.3 1046.5,695.2 C1048.9,693.1 1051.4,690.9 1053.8,688.8 C1056.2,686.6 1058.7,684.4 1061.1,682.2 C1063.5,680.0 1065.9,677.9 1068.4,675.7 C1070.8,673.5 1073.2,671.2 1075.7,669.0 C1078.1,666.8 1080.5,664.6 1083.0,662.4 C1085.4,660.2 1087.8,658.0 1090.3,655.8 C1092.7,653.6 1095.1,651.4 1097.5,649.2 C1100.0,647.0 1102.4,644.8 1104.8,642.6 C1107.3,640.4 1109.7,638.3 1112.1,636.1 C1114.6,633.9 1117.0,631.8 1119.4,629.7 C1121.8,627.6 1124.3,625.5 1126.7,623.4 C1129.1,621.3 1132.8,618.2 1134.0,617.2"/>
<path d="M558.0,791.0 C558.9,791.1 561.5,791.3 563.3,791.4 C565.1,791.5 566.8,791.6 568.6,791.8 C570.3,791.9 572.1,792.0 573.9,792.1 C575.6,792.3 577.4,792.4 579.2,792.5 C580.9,792.6 582.7,792.8 584.4,792.9 C586.2,793.0 588.0,793.1 589.7,793.3 C591.5,793.4 593.3,793.5 595.0,793.6 C596.8,793.7 598.5,793.8 600.3,794.0 C602.1,794.1 603.8,794.2 605.6,794.3 C607.4,794.4 609.1,794.5 610.9,794.6 C612.7,794.7 614.4,794.9 616.2,795.0 C617.9,795.1 619.7,795.2 621.5,795.3 C623.2,795.4 625.0,795.5 626.8,795.6 C628.5,795.7 630.3,795.8 632.0,795.9 C633.8,795.9 635.6,796.0 637.3,796.1 C639.1,796.2 640.9,796.3 642.6,796.4 C644.4,796.5 646.1,796.5 647.9,796.6 C649.7,796.7 651.4,796.8 653.2,796.8 C655.0,796.9 656.7,797.0 658.5,797.0 C660.3,797.1 662.0,797.1 663.8,797.2 C665.5,797.3 667.3,797.3 669.1,797.4 C670.8,797.4 672.6,797.5 674.4,797.5 C676.1,797.5 677.9,797.6 679.6,797.6 C681.4,797.6 683.2,797.7 684.9,797.7 C686.7,797.7 688.5,797.7 690.2,797.7 C692.0,797.8 693.8,797.8 695.5,797.8 C697.3,797.8 699.0,797.8 700.8,797.8 C702.6,797.8 704.3,797.8 706.1,797.8 C707.9,797.7 709.6,797.7 711.4,797.7 C713.1,797.7 714.9,797.6 716.7,797.6 C718.4,797.6 720.2,797.5 722.0,797.5 C723.7,797.4 725.5,797.4 727.2,797.3 C729.0,797.2 730.8,797.2 732.5,797.1 C734.3,797.0 736.1,796.9 737.8,796.8 C739.6,796.7 741.4,796.6 743.1,796.5 C744.9,796.4 746.6,796.3 748.4,796.1 C750.2,796.0 751.9,795.8 753.7,795.7 C755.5,795.5 757.2,795.4 759.0,795.2 C760.7,795.0 762.5,794.8 764.3,794.6 C766.0,794.4 767.8,794.2 769.6,794.0 C771.3,793.8 773.1,793.6 774.8,793.3 C776.6,793.1 778.4,792.8 780.1,792.6 C781.9,792.3 783.7,792.0 785.4,791.7 C787.2,791.4 789.0,791.1 790.7,790.8 C792.5,790.5 794.2,790.2 796.0,789.9 C797.8,789.6 799.5,789.3 801.3,789.0 C803.1,788.6 804.8,788.3 806.6,788.0 C808.3,787.7 810.1,787.4 811.9,787.1 C813.6,786.8 815.4,786.5 817.2,786.2 C818.9,785.9 820.7,785.6 822.4,785.3 C824.2,785.0 826.0,784.8 827.7,784.5 C829.5,784.3 831.3,784.1 833.0,783.9 C834.8,783.6 836.6,783.4 838.3,783.3 C840.1,783.1 841.8,782.9 843.6,782.7 C845.4,782.6 847.1,782.4 848.9,782.3 C850.7,782.2 852.4,782.0 854.2,781.9 C855.9,781.8 857.7,781.7 859.5,781.6 C861.2,781.5 863.0,781.4 864.8,781.3 C866.5,781.2 868.3,781.1 870.1,781.0 C871.8,780.9 873.6,780.9 875.3,780.8 C877.1,780.7 878.9,780.6 880.6,780.6 C882.4,780.5 884.2,780.4 885.9,780.3 C887.7,780.3 889.4,780.2 891.2,780.1 C893.0,780.1 894.7,780.0 896.5,779.9 C898.3,779.9 900.0,779.8 901.8,779.7 C903.5,779.6 905.3,779.6 907.1,779.5 C908.8,779.4 910.6,779.3 912.4,779.2 C914.1,779.1 915.9,779.0 917.7,778.9 C919.4,778.8 921.2,778.7 922.9,778.6 C924.7,778.5 926.5,778.3 928.2,778.2 C930.0,778.1 931.8,777.9 933.5,777.8 C935.3,777.6 937.0,777.4 938.8,777.3 C940.6,777.1 942.3,776.9 944.1,776.7 C945.9,776.6 947.6,776.4 949.4,776.2 C951.1,776.0 952.9,775.8 954.7,775.6 C956.4,775.4 958.2,775.2 960.0,774.9 C961.7,774.7 963.5,774.5 965.3,774.3 C967.0,774.1 968.8,773.9 970.5,773.7 C972.3,773.5 974.1,773.2 975.8,773.0 C977.6,772.8 979.4,772.6 981.1,772.4 C982.9,772.2 984.6,772.0 986.4,771.8 C988.2,771.5 989.9,771.3 991.7,771.1 C993.5,770.9 995.2,770.7 997.0,770.4 C998.7,770.2 1000.5,769.9 1002.3,769.6 C1004.0,769.4 1005.8,769.1 1007.6,768.7 C1009.3,768.4 1011.1,768.0 1012.9,767.6 C1014.6,767.2 1016.4,766.8 1018.1,766.4 C1019.9,765.9 1021.7,765.4 1023.4,764.8 C1025.2,764.3 1027.0,763.7 1028.7,763.0 C1030.5,762.3 1032.2,761.6 1034.0,760.9 C1035.8,760.1 1037.5,759.2 1039.3,758.4 C1041.1,757.5 1042.8,756.5 1044.6,755.5 C1046.4,754.4 1048.1,753.3 1049.9,752.2 C1051.6,751.0 1053.4,749.7 1055.2,748.4 C1056.9,747.1 1058.7,745.8 1060.5,744.4 C1062.2,743.1 1064.0,741.7 1065.7,740.3 C1067.5,738.9 1069.3,737.5 1071.0,736.1 C1072.8,734.7 1074.6,733.3 1076.3,731.9 C1078.1,730.5 1079.8,729.1 1081.6,727.8 C1083.4,726.4 1085.1,725.0 1086.9,723.6 C1088.7,722.2 1090.4,720.9 1092.2,719.5 C1094.0,718.2 1095.7,716.9 1097.5,715.6 C1099.2,714.3 1101.0,713.0 1102.8,711.7 C1104.5,710.5 1106.3,709.3 1108.1,708.1 C1109.8,706.9 1111.6,705.7 1113.3,704.6 C1115.1,703.5 1116.9,702.4 1118.6,701.3 C1120.4,700.3 1122.2,699.3 1123.9,698.3 C1125.7,697.4 1127.4,696.5 1129.2,695.6 C1131.0,694.8 1133.6,693.6 1134.5,693.2"/>
<path d="M558,790.8 L740,757.8 L772,750.6 L870,734.6 L935,722.9 L975,706.0 C975.9,705.0 978.6,703.9 980.5,703.1 C982.3,702.3 984.1,701.5 985.9,700.7 C987.8,699.9 989.6,699.1 991.4,698.3 C993.2,697.5 995.0,696.7 996.9,695.9 C998.7,695.2 1000.5,694.4 1002.3,693.7 C1004.1,693.0 1006.0,692.3 1007.8,691.6 C1009.6,690.9 1011.4,690.3 1013.3,689.7 C1015.1,689.1 1016.9,688.5 1018.7,688.0 C1020.5,687.5 1022.4,687.0 1024.2,686.6 C1026.0,686.1 1027.8,685.7 1029.7,685.3 C1031.5,685.0 1033.3,684.6 1035.1,684.3 C1036.9,684.0 1038.8,683.7 1040.6,683.5 C1042.4,683.2 1044.2,683.0 1046.1,682.8 C1047.9,682.7 1049.7,682.5 1051.5,682.4 C1053.3,682.2 1055.2,682.2 1057.0,682.1 C1058.8,682.0 1060.6,681.9 1062.4,681.9 C1064.3,681.9 1066.1,681.9 1067.9,681.9 C1069.7,681.9 1071.6,681.9 1073.4,681.9 C1075.2,682.0 1077.0,682.0 1078.8,682.1 C1080.7,682.2 1082.5,682.2 1084.3,682.3 C1086.1,682.4 1088.0,682.5 1089.8,682.6 C1091.6,682.7 1093.4,682.8 1095.2,682.9 C1097.1,683.0 1098.9,683.1 1100.7,683.2 C1102.5,683.3 1104.4,683.4 1106.2,683.5 C1108.0,683.6 1109.8,683.7 1111.6,683.8 C1113.5,683.9 1115.3,684.0 1117.1,684.1 C1118.9,684.1 1120.7,684.2 1122.6,684.3 C1124.4,684.3 1126.2,684.4 1128.0,684.4 C1129.9,684.4 1132.6,684.4 1133.5,684.4" stroke="#cc3a2f"/>
<path d="M1134.0,105.8 V617.2" stroke="#c8403c" stroke-opacity="1" stroke-width="1.4"/>
<path d="M1134.3,637 V693.4" stroke-opacity="0.7"/>
</g>
<path d="M1134.0,617.2 V637" stroke="#f0a070" stroke-width="1.2" fill="none"/>
<path d="M558.1,790.9 L650.1,772.9 L740.2,755.4 L800.2,745.7 L870.2,734.3 L935.5,722.8 L1135.9,638.3 L1134.5,635.1 L934.5,719.8 L869.8,731.7 L799.8,743.5 L739.8,753.6 L649.9,771.7 L557.9,790.1 Z" fill="#3c2d32" fill-opacity="0.8"/>
<path d="M558.0,790.5 C559.8,790.2 565.2,789.4 568.9,788.8 C572.5,788.3 576.1,787.8 579.7,787.3 C583.3,786.9 587.0,786.4 590.6,785.9 C594.2,785.5 597.8,785.1 601.5,784.6 C605.1,784.2 608.7,783.8 612.4,783.4 C616.0,783.0 619.6,782.6 623.2,782.2 C626.9,781.8 630.5,781.4 634.1,781.0 C637.8,780.6 641.4,780.2 645.0,779.8 C648.7,779.4 652.3,779.0 655.9,778.6 C659.6,778.2 663.2,777.7 666.8,777.3 C670.5,776.8 674.1,776.4 677.7,775.9 C681.4,775.4 685.0,774.9 688.6,774.3 C692.3,773.8 695.9,773.2 699.5,772.6 C703.1,772.0 706.8,771.4 710.4,770.8 C714.0,770.1 717.6,769.4 721.1,768.5 C724.7,767.7 728.2,766.8 731.7,765.8 C735.2,764.7 738.7,763.6 742.1,762.4 C745.5,761.1 748.9,759.8 752.2,758.4 C755.6,757.0 758.9,755.5 762.2,754.0 C765.5,752.4 768.8,750.8 772.0,749.1 C775.3,747.5 778.5,745.7 781.7,744.0 C784.9,742.2 788.1,740.4 791.3,738.6 C794.5,736.8 797.7,734.9 800.8,733.0 C804.0,731.2 807.1,729.2 810.2,727.3 C813.3,725.3 816.4,723.3 819.4,721.3 C822.5,719.2 825.5,717.1 828.4,714.9 C831.3,712.8 834.2,710.5 837.0,708.2 C839.9,705.9 842.6,703.6 845.3,701.1 C848.0,698.7 850.6,696.2 853.1,693.6 C855.7,691.0 858.1,688.3 860.6,685.5 C863.0,682.8 865.3,680.0 867.6,677.2 C870.0,674.4 872.2,671.5 874.5,668.6 C876.8,665.8 879.0,662.8 881.3,659.9 C883.5,657.0 885.7,654.1 888.0,651.2 C890.2,648.3 892.4,645.4 894.7,642.5 C896.9,639.6 899.1,636.7 901.3,633.8 C903.5,630.9 905.7,627.9 907.9,625.0 C910.1,622.1 912.2,619.1 914.4,616.2 C916.6,613.2 918.7,610.3 920.9,607.3 C923.0,604.4 925.1,601.4 927.2,598.4 C929.3,595.4 931.4,592.4 933.5,589.4 C935.6,586.4 937.6,583.4 939.7,580.4 C941.7,577.4 943.7,574.3 945.7,571.3 C947.7,568.2 949.7,565.2 951.6,562.1 C953.6,559.0 955.5,555.9 957.4,552.8 C959.3,549.7 961.2,546.5 963.1,543.4 C964.9,540.3 966.8,537.1 968.6,533.9 C970.4,530.7 972.2,527.6 974.0,524.4 C975.8,521.2 977.6,518.0 979.3,514.8 C981.1,511.6 982.9,508.4 984.6,505.1 C986.4,501.9 988.2,498.7 989.9,495.5 C991.7,492.3 993.5,489.1 995.2,485.9 C997.0,482.7 998.8,479.5 1000.6,476.3 C1002.4,473.1 1004.2,469.9 1006.0,466.8 C1007.8,463.6 1009.6,460.4 1011.3,457.2 C1013.1,454.0 1014.9,450.8 1016.6,447.6 C1018.3,444.4 1020.0,441.1 1021.7,437.9 C1023.3,434.6 1025.0,431.3 1026.5,428.1 C1028.1,424.8 1029.7,421.4 1031.2,418.1 C1032.7,414.8 1034.2,411.5 1035.6,408.1 C1037.1,404.8 1038.5,401.4 1039.9,398.0 C1041.3,394.6 1042.7,391.3 1044.0,387.9 C1045.4,384.5 1046.7,381.1 1048.0,377.7 C1049.3,374.2 1050.6,370.8 1051.9,367.4 C1053.1,364.0 1054.4,360.5 1055.6,357.1 C1056.9,353.6 1058.1,350.2 1059.3,346.7 C1060.5,343.3 1061.7,339.8 1062.8,336.4 C1064.0,332.9 1065.2,329.4 1066.3,326.0 C1067.5,322.5 1068.6,319.0 1069.8,315.5 C1070.9,312.1 1072.1,308.6 1073.2,305.1 C1074.3,301.6 1075.5,298.1 1076.6,294.7 C1077.7,291.2 1078.9,287.7 1080.0,284.2 C1081.1,280.8 1082.3,277.3 1083.4,273.8 C1084.5,270.3 1085.7,266.8 1086.8,263.4 C1087.9,259.9 1089.0,256.4 1090.2,252.9 C1091.3,249.5 1092.4,246.0 1093.5,242.5 C1094.6,239.0 1095.7,235.5 1096.9,232.0 C1098.0,228.6 1099.1,225.1 1100.2,221.6 C1101.3,218.1 1102.4,214.6 1103.5,211.1 C1104.6,207.7 1105.6,204.2 1106.7,200.7 C1107.8,197.2 1108.9,193.7 1109.9,190.2 C1111.0,186.7 1112.1,183.2 1113.1,179.7 C1114.2,176.2 1115.2,172.7 1116.3,169.2 C1117.3,165.7 1118.3,162.2 1119.4,158.7 C1120.4,155.2 1121.4,151.7 1122.4,148.1 C1123.4,144.6 1124.4,141.1 1125.4,137.6 C1126.4,134.1 1127.4,130.5 1128.3,127.0 C1129.3,123.5 1130.3,120.0 1131.2,116.4 C1132.1,112.9 1133.5,107.6 1134.0,105.8" fill="none" stroke="#211f29" stroke-width="2.3" stroke-linejoin="round" stroke-linecap="round"/>
<path d="M342.7,809.8 L439.7,798.0 L546.0,792.0 L558.0,790.5" fill="none" stroke="#160c08" stroke-width="3.0" stroke-linejoin="round"/>
<path d="M293,102 V891 H1182" fill="none" stroke="#8c8c8c" stroke-width="1.6"/>

</svg>

<h1 class="t" id="title">Graph 1. Range Of Hydrogen Demand Assessment By 2050</h1>

<div class="t" id="rtitle">Hydrogen in TWh (HHV)</div>
<div class="t" id="ltitle">Hydrogen in Mt</div>

<div class="t yl" id="y600" style="left:221px;top:91px">600</div>
<div class="t yl" id="y500" style="left:221px;top:221px">500</div>
<div class="t yl" id="y400" style="left:220px;top:352px">400</div>
<div class="t yl" id="y300" style="left:221px;top:482px">300</div>
<div class="t yl" id="y200" style="left:222px;top:612px">200</div>
<div class="t yl" id="y100" style="left:228px;top:742px">100</div>
<div class="t yl" id="y0" style="left:255px;top:873px">0</div>

<div class="t xl" id="x2010" style="left:363px">2010</div>
<div class="t xl" id="x2015" style="left:462px">2015</div>
<div class="t xl" id="x2020" style="left:553px">2020</div>
<div class="t xl" id="x2025" style="left:657px">2025</div>
<div class="t xl" id="x2030" style="left:756px">2030</div>
<div class="t xl" id="x2035" style="left:857px">2035</div>
<div class="t xl" id="x2040" style="left:952px">2040</div>
<div class="t xl" id="x2045" style="left:1052px">2045</div>
<div class="t xl" id="x2050" style="left:1149px">2050</div>

<div class="t rl" id="r1" style="top:109px">22,500</div>
<div class="t rl" id="r2" style="top:194px">20,000</div>
<div class="t rl" id="r3" style="top:279px">17,500</div>
<div class="t rl" id="r4" style="top:364px">15,000</div>
<div class="t rl" id="r5" style="top:449px">12,500</div>
<div class="t rl" id="r6" style="top:534px">10,000</div>
<div class="t rl" id="r7" style="top:619px">7,500</div>
<div class="t rl" id="r8" style="top:704px">5,000</div>
<div class="t rl" id="r9" style="top:789px">2,500</div>


<div class="sep" style="left:514.8px;top:975px;height:240px"></div>
<div class="sep" style="left:1106.3px;top:974px;height:241px"></div>

<div class="dot" style="left:1.4px;top:991px;background:#878787"></div>
<div class="t lh" id="h1" style="left:40px;top:987px;color:#878787">&lt; 1.8ºC</div>
<div class="t li" id="a1" style="letter-spacing:-0.24px;left:2px;top:1034px">Acil Allen Report - High</div>
<div class="t li" id="a2" style="letter-spacing:-0.21px;left:2px;top:1065.4px">BP Energy Outlook 2020 - Net Zero</div>
<div class="t li" id="a3" style="left:2px;top:1096.8px">IEA Energy Technology Perspectives 2020 - SDS</div>
<div class="t li" id="a4" style="left:2px;top:1128.2px">Shell - Sky Scenario</div>
<div class="t li" id="a5" style="letter-spacing:-0.25px;left:2px;top:1159.6px">Powerfuels in a Renewables World</div>
<div class="t li" id="a6" style="letter-spacing:-0.36px;left:2px;top:1191px">Hydrogen Economy Outlook - Strong Policy</div>

<div class="dot" style="left:618.7px;top:990.7px;background:#ea8a00"></div>
<div class="t lh" id="h2" style="left:654px;top:987.5px;color:#ea8a00">1.8 - 2.3ºC</div>
<div class="t li" id="b1" style="letter-spacing:-0.18px;left:619px;top:1034.5px">Acil Allen Report - Medium</div>
<div class="t li" id="b2" style="letter-spacing:-0.25px;left:619px;top:1065.9px">BP Energy Outlook 2020 - Rapid</div>
<div class="t li" id="b3" style="letter-spacing:-0.23px;left:619px;top:1097.3px">Hydrogen Council - 2DS</div>
<div class="t li" id="b4" style="letter-spacing:-0.42px;left:619px;top:1128.7px">World Energy Council - Unfinished Symphony</div>

<div class="dot" style="left:1186.5px;top:983.6px;background:#dd5670"></div>
<div class="t lh" id="h3" style="left:1223px;top:978px;color:#dd5670">&gt; 2.3ºC</div>
<div class="t li" id="c1" style="left:1188px;top:1024.5px">Acil Allen Report - Low</div>
<div class="t li" id="c2" style="letter-spacing:-0.25px;left:1188px;top:1056px">World Energy Council - Modern Jazz</div>
<div class="t li" id="c3" style="letter-spacing:-0.33px;left:1188px;top:1087.5px">Hydrogen Economy Outlook - Weak Policy</div>

<div class="t" id="src">Source: PwC</div>

</body>
</html>
